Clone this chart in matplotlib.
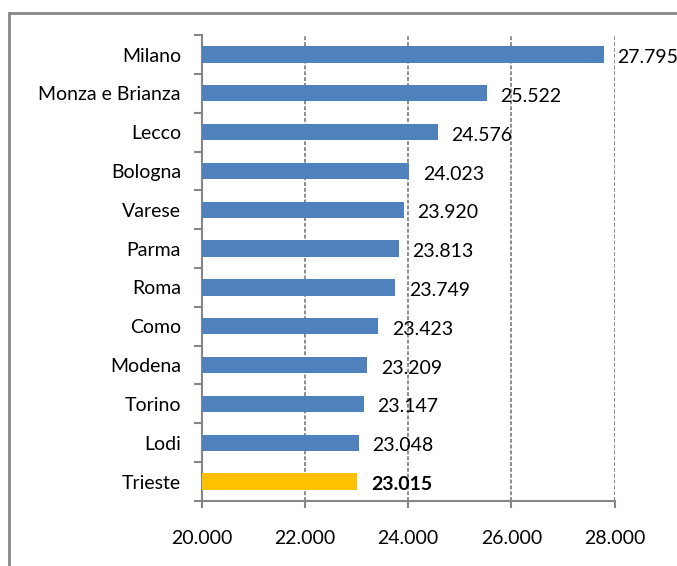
import matplotlib
matplotlib.use("Agg")
import matplotlib.pyplot as plt
from matplotlib.patches import Rectangle
from matplotlib.ticker import FuncFormatter, FixedLocator

# dati (dall'alto verso il basso)
cities = ["Milano", "Monza e Brianza", "Lecco", "Bologna", "Varese", "Parma",
          "Roma", "Como", "Modena", "Torino", "Lodi", "Trieste"]
values = [27795, 25522, 24576, 24023, 23920, 23813,
          23749, 23423, 23209, 23147, 23048, 23015]
highlight = "Trieste"

blue = "#4F81BD"
yellow = "#FFC000"
grey = "#868686"

plt.rcParams["font.family"] = ["Lato", "DejaVu Sans"]
fs = 14

def it_fmt(v, pos=None):
    return f"{v:,.0f}".replace(",", ".")

fig = plt.figure(figsize=(6.77, 5.66), dpi=100)
ax = fig.add_axes([0.298, 0.115, 0.61, 0.823])

# cornice esterna del grafico (tagliata a destra e in basso)
fig.patches.append(Rectangle((9 / 677, -0.05), 1.0, 1 - 13 / 566 + 0.05,
                             transform=fig.transFigure, fill=False,
                             edgecolor=grey, linewidth=2.0, clip_on=False))

ypos = list(range(len(cities)))[::-1]
colors = [yellow if c == highlight else blue for c in cities]
ax.barh(ypos, [v - 20000 for v in values], left=20000, height=0.42,
        color=colors, zorder=3)

for y, v, c in zip(ypos, values, cities):
    ax.text(v + 260, y - 0.08, it_fmt(v), va="center", ha="left",
            fontsize=fs, fontweight="bold" if c == highlight else "normal",
            zorder=4, clip_on=False)

ax.set_xlim(20000, 28000)
ax.set_ylim(-0.5, len(cities) - 0.5)
ax.set_xticks([20000, 22000, 24000, 26000, 28000])
ax.xaxis.set_major_formatter(FuncFormatter(it_fmt))
ax.set_yticks(ypos)
ax.set_yticklabels(cities)
ax.yaxis.set_minor_locator(FixedLocator([i - 0.5 for i in range(len(cities) + 1)]))

ax.tick_params(axis="y", which="major", length=0, pad=15, labelsize=fs)
ax.tick_params(axis="y", which="minor", length=6, width=1.5, color=grey)
ax.tick_params(axis="x", length=5, width=1.5, color=grey, pad=16, labelsize=fs)

ax.grid(axis="x", linestyle=(0, (2, 1)), color="#8c8c8c", linewidth=1.4, zorder=0)
for s in ["top", "right"]:
    ax.spines[s].set_visible(False)
for s in ["left", "bottom"]:
    ax.spines[s].set_color(grey)
    ax.spines[s].set_linewidth(1.5)

fig.savefig("out.png", dpi=100)
